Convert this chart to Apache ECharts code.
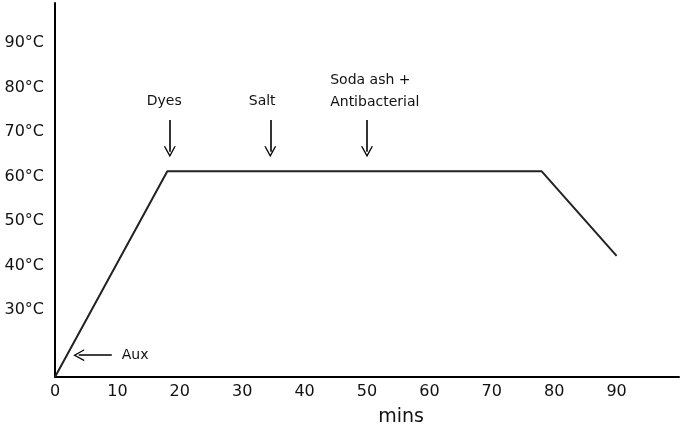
<!DOCTYPE html>
<html>
<head>
<meta charset="utf-8">
<script src="https://cdn.jsdelivr.net/npm/echarts@6/dist/echarts.min.js"></script>
<style>
  html, body { margin: 0; padding: 0; background: #fff; }
  #chart { width: 685px; height: 426px; }
</style>
</head>
<body>
<div id="chart"></div>
<script>
// temperature profile: [mins, °C]
const profile = [[0, 15], [18, 61.2], [78, 61.2], [90, 42.2]]
const yTicks = [30, 40, 50, 60, 70, 80, 90]
// additions: label, x of arrow
const additions = [
  { name: 'Dyes', x: 18.4, labelX: 17.5, labelY: 76.8, align: 'center' },
  { name: 'Salt', x: 34.5, labelX: 33.2, labelY: 76.8, align: 'center' },
  { name: 'Soda ash +\nAntibacterial', x: 50, labelX: 44.1, labelY: 79.2, align: 'left' }
]
const arrowTop = 72.7
const arrowBottom = 65.6
const aux = { name: 'Aux', from: 9.1, to: 3.8, y: 19.9, labelX: 10.7 }

const font = 'DejaVu Sans'
const chevron = 'path://M0,10 L5,0 L10,10 L8.8,10 L5,2.4 L1.2,10 Z'

let chart = echarts.init(document.getElementById('chart'))

let lines = additions.map(a => [{ coord: [a.x, arrowTop] }, { coord: [a.x, arrowBottom] }])
lines.push([{ coord: [aux.from, aux.y] }, { coord: [aux.to, aux.y] }])

let texts = additions.map(a => ({
  coord: [a.labelX, a.labelY],
  label: { formatter: a.name, align: a.align }
}))
texts.push({ coord: [aux.labelX, aux.y], label: { formatter: aux.name, align: 'left' } })

let option = {
  animation: false,
  grid: { left: 55, right: 6, top: 3, bottom: 49, outerBoundsMode: 'none', containLabel: false },
  xAxis: {
    type: 'value',
    min: 0,
    max: 100,
    interval: 10,
    name: 'mins',
    nameLocation: 'middle',
    nameGap: 31,
    nameTextStyle: { fontFamily: font, fontSize: 19, color: '#111', padding: [0, 0, 0, 68] },
    axisLine: { lineStyle: { color: '#000', width: 2 } },
    axisTick: { show: false },
    splitLine: { show: false },
    axisLabel: {
      fontFamily: font, fontSize: 16, color: '#111', margin: 7,
      formatter: v => (v <= 90 ? String(v) : '')
    }
  },
  yAxis: {
    type: 'value',
    min: 15,
    max: 99,
    interval: 5,
    axisLine: { show: true, lineStyle: { color: '#000', width: 2 } },
    axisTick: { show: false },
    splitLine: { show: false },
    axisLabel: {
      fontFamily: font, fontSize: 16, color: '#111', margin: 11,
      formatter: v => (yTicks.indexOf(v) >= 0 ? v + '°C' : '')
    }
  },
  series: [{
    type: 'line',
    data: profile,
    symbol: 'none',
    lineStyle: { color: '#222', width: 2 },
    markLine: {
      silent: true,
      symbol: ['none', chevron],
      symbolSize: [12, 11],
      lineStyle: { color: '#000', width: 1.6, type: 'solid' },
      label: { show: false },
      data: lines
    },
    markPoint: {
      silent: true,
      symbol: 'circle',
      symbolSize: 0,
      itemStyle: { color: 'transparent' },
      label: {
        show: true, position: 'inside', color: '#111',
        fontFamily: font, fontSize: 14, lineHeight: 22, verticalAlign: 'middle'
      },
      data: texts
    }
  }]
}
chart.setOption(option)
</script>
</body>
</html>
